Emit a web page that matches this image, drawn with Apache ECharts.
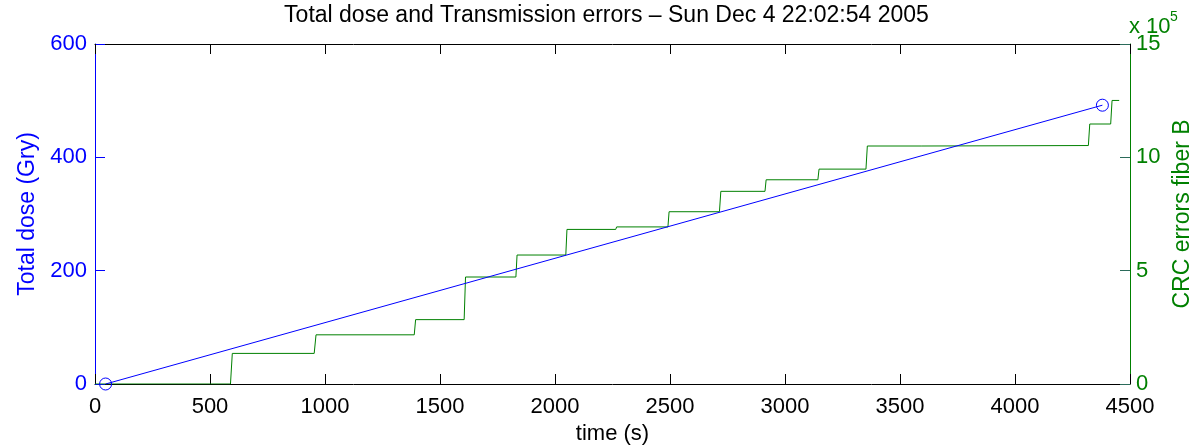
<!DOCTYPE html>
<html>
<head>
<meta charset="utf-8">
<script src="https://cdn.jsdelivr.net/npm/echarts@6/dist/echarts.min.js"></script>
<style>
html,body{margin:0;padding:0;background:#fff;overflow:hidden;}
#chart{width:1194px;height:446px;}
</style>
</head>
<body>
<div id="chart"></div>
<script>
// ---- data ----
const titleText = 'Total dose and Transmission errors \u2013 Sun Dec 4 22:02:54 2005';
const xTicks = [0, 500, 1000, 1500, 2000, 2500, 3000, 3500, 4000, 4500];
const doseTicks = [0, 200, 400, 600];
const crcTicks = [0, 500000, 1000000, 1500000];

const doseTime = [46, 4380];
const doseValue = [0, 492];

const crcTime  = [0, 589, 597, 953, 961, 1388, 1394, 1605, 1611, 1830, 1835, 2047, 2052, 2264, 2268, 2491, 2496, 2715, 2721, 2913, 2918, 3143, 3148, 3352, 3358, 3595, 3599, 4319, 4325, 4416, 4422, 4453];
const crcValue = [0, 0, 135000, 135000, 217000, 217000, 284000, 284000, 472000, 472000, 569000, 569000, 682000, 682000, 693000, 693000, 760000, 760000, 850000, 850000, 901000, 901000, 948000, 948000, 1050000, 1050000, 1052000, 1052000, 1147000, 1147000, 1251000, 1251000];

const FONT = '"Liberation Sans", Arial, Helvetica, sans-serif';
const FS = 22;
const FN = 23;

const chart = echarts.init(document.getElementById('chart'), null, {renderer: 'canvas', width: 1194, height: 446});

const option = {
  animation: false,
  backgroundColor: '#fff',
  grid: {left: 95, top: 44, width: 1035, height: 340, containLabel: false, outerBoundsMode: 'none'},
  xAxis: [{
    type: 'value', position: 'bottom', min: xTicks[0], max: xTicks[xTicks.length-1], interval: 500,
    name: 'time (s)', nameLocation: 'middle', nameGap: 36,
    nameTextStyle: {fontFamily: FONT, fontSize: FS, color: '#000'},
    axisLine: {show: true, onZero: false, lineStyle: {color: '#000', width: 1}},
    axisTick: {show: true, inside: true, length: 10, lineStyle: {color: '#000'}},
    axisLabel: {fontFamily: FONT, fontSize: FS, color: '#000', margin: 12, formatter: v => String(v)},
    splitLine: {show: false}
  }, {
    type: 'value', position: 'top', min: xTicks[0], max: xTicks[xTicks.length-1], interval: 500,
    axisLine: {show: true, onZero: false, lineStyle: {color: '#000', width: 1}},
    axisTick: {show: true, inside: true, length: 10, lineStyle: {color: '#000'}},
    axisLabel: {show: false},
    splitLine: {show: false}
  }],
  yAxis: [{
    type: 'value', position: 'left', min: doseTicks[0], max: doseTicks[doseTicks.length-1], interval: 200,
    name: 'Total dose (Gry)', nameLocation: 'middle', nameGap: 56, nameRotate: 90,
    nameTextStyle: {fontFamily: FONT, fontSize: FN, color: '#0000ff'},
    axisLine: {show: true, onZero: false, lineStyle: {color: '#0000ff', width: 1}},
    axisTick: {show: true, inside: true, length: 10, lineStyle: {color: '#0000ff'}},
    axisLabel: {fontFamily: FONT, fontSize: FS, color: '#0000ff', margin: 8, formatter: v => String(v)},
    splitLine: {show: false}
  }, {
    type: 'value', position: 'right', min: crcTicks[0], max: crcTicks[crcTicks.length-1], interval: 500000,
    name: 'CRC errors fiber B', nameLocation: 'middle', nameGap: 40, nameRotate: 90,
    nameTextStyle: {fontFamily: FONT, fontSize: FN, color: '#008000'},
    axisLine: {show: true, onZero: false, lineStyle: {color: '#008000', width: 1}},
    axisTick: {show: true, inside: true, length: 10, lineStyle: {color: '#2b6b5a'}},
    axisLabel: {fontFamily: FONT, fontSize: FS, color: '#008000', margin: 6,
      formatter: v => String(Math.round(v / 1e5))},
    splitLine: {show: false}
  }],
  graphic: [{
    type: 'text', x: 606.5, y: 4,
    style: {text: titleText, font: FN + 'px ' + FONT, fill: '#000', textAlign: 'center', textVerticalAlign: 'top'}
  }, {
    type: 'text', x: 1129, y: 16,
    style: {text: 'x 10', font: '22px ' + FONT, fill: '#008000', textVerticalAlign: 'top'}
  }, {
    type: 'text', x: 1170, y: 10,
    style: {text: '5', font: '14px ' + FONT, fill: '#008000', textVerticalAlign: 'top'}
  }],
  series: [{
    type: 'line', xAxisIndex: 0, yAxisIndex: 1,
    data: crcTime.map((t, i) => [t, crcValue[i]]),
    showSymbol: false, symbol: 'none',
    lineStyle: {color: '#008000', width: 1},
    z: 2
  }, {
    type: 'line', xAxisIndex: 0, yAxisIndex: 0,
    data: doseTime.map((t, i) => [t, doseValue[i]]),
    symbol: 'circle', symbolSize: 12, showSymbol: true,
    itemStyle: {color: 'rgba(0,0,0,0)', borderColor: '#0000ff', borderWidth: 1},
    lineStyle: {color: '#0000ff', width: 1},
    z: 3
  }]
};
chart.setOption(option);
</script>
</body>
</html>
